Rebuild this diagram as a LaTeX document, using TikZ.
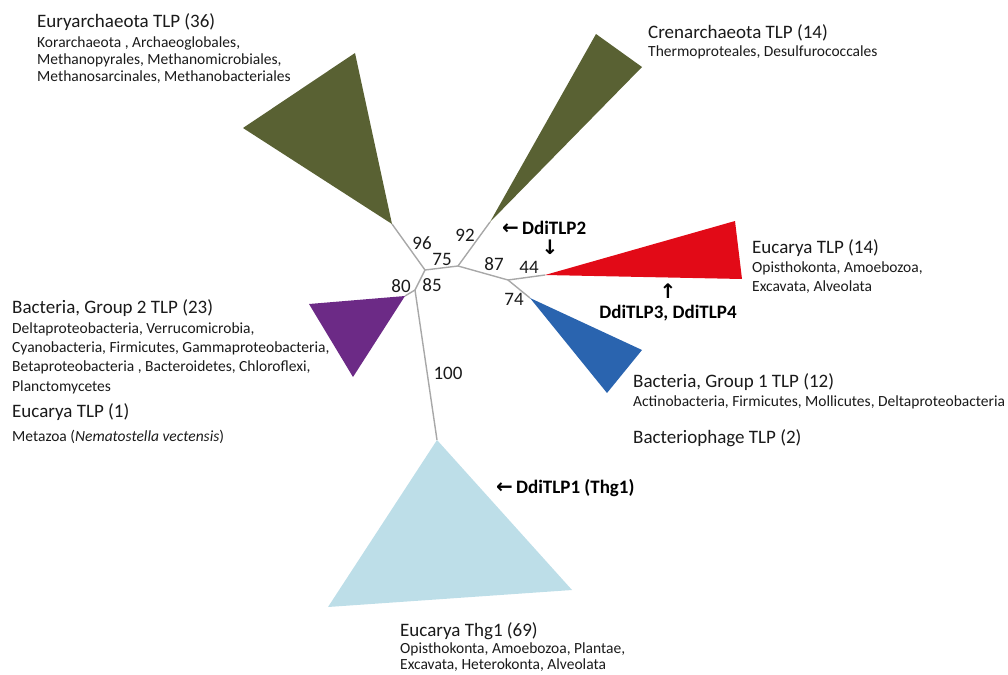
\documentclass[tikz,border=0pt]{standalone}
\usepackage{fontspec}
\setmainfont{Carlito}
\newfontfamily\arrfont{DejaVu Sans}
\definecolor{olive}{HTML}{596133}
\definecolor{tred}{HTML}{E20A17}
\definecolor{tpurple}{HTML}{6C2A86}
\definecolor{tblue}{HTML}{2A64AF}
\definecolor{tlight}{HTML}{BDDEE8}
\definecolor{tgray}{HTML}{A8A8A8}
\definecolor{txt}{HTML}{1A1A1A}
\begin{document}
\begin{tikzpicture}[x=1pt,y=-1pt,
  branch/.style={draw=tgray,line width=1.4pt},
  ttl/.style={anchor=west,inner sep=0pt,text=txt,font=\fontsize{19}{22}\selectfont},
  sub/.style={anchor=west,inner sep=0pt,text=txt,font=\fontsize{15.5}{18}\selectfont},
  num/.style={inner sep=0pt,text=txt,font=\fontsize{19}{22}\selectfont},
  ddi/.style={inner sep=0pt,text=black,font=\fontsize{19}{22}\selectfont\bfseries},
  arr/.style={inner sep=0pt,text=black,font=\fontsize{20}{22}\arrfont\bfseries}]
\useasboundingbox (0,0) rectangle (1008,674);
% junctions and tips
\coordinate (A) at (425,270);
\coordinate (B) at (458,266);
\coordinate (C) at (508,280);
\coordinate (D) at (415,290);
\coordinate (euryTip) at (392,224);
\coordinate (crenTip) at (490,222);
\coordinate (redTip) at (545,275);
\coordinate (blueTip) at (530,298);
\coordinate (purpTip) at (405,296);
\coordinate (thgTip) at (437,440);
% clades
\fill[olive] (euryTip) -- (243,128) -- (355,53) -- cycle;
\fill[olive] (crenTip) -- (596,34) -- (642,67) -- cycle;
\fill[tred] (redTip) -- (735,221) -- (742,279) -- cycle;
\fill[tblue] (blueTip) -- (642,350) -- (607,393) -- cycle;
\fill[tpurple] (purpTip) -- (309,304) -- (353,377) -- cycle;
\fill[tlight] (thgTip) -- (572,590) -- (328,607) -- cycle;
% branches
\draw[branch] (A) -- (euryTip);
\draw[branch] (A) -- (B);
\draw[branch] (A) -- (D);
\draw[branch] (D) -- (purpTip);
\draw[branch] (D) -- (thgTip);
\draw[branch] (B) -- (crenTip);
\draw[branch] (B) -- (C);
\draw[branch] (C) -- (redTip);
\draw[branch] (C) -- (blueTip);
% bootstrap values
\node[num] (n96) at (422,243) {96};
\node[num] (n75) at (442,259) {75};
\node[num] (n92) at (465,235) {92};
\node[num] (n87) at (494,264) {87};
\node[num] (n44) at (529,267) {44};
\node[num] (n80) at (401,286) {80};
\node[num] (n85) at (432,285) {85};
\node[num] (n74) at (514,299) {74};
\node[num] (n100) at (448,373) {100};
% DdiTLP markers
\node[ddi,anchor=west] (d2) at (502,228) {{\arrfont\fontsize{20}{22}\selectfont ←}\,DdiTLP2};
\node[arr] (d2a) at (550,247) {↓};
\node[arr] (d34a) at (668,291) {↑};
\node[ddi] (d34) at (668,313) {DdiTLP3, DdiTLP4};
\node[ddi,anchor=west] (d1) at (496,488) {{\arrfont\fontsize{20}{22}\selectfont ←}\,DdiTLP1 (Thg1)};
% clade labels
\node[ttl] (eu0) at (37,22) {Euryarchaeota TLP (36)};
\node[sub] (eu1) at (37,43) {Korarchaeota , Archaeoglobales,};
\node[sub] (eu2) at (37,60) {Methanopyrales, Methanomicrobiales,};
\node[sub] (eu3) at (37,77) {Methanosarcinales, Methanobacteriales};
\node[ttl] (cr0) at (648,33) {Crenarchaeota TLP (14)};
\node[sub] (cr1) at (648,52) {Thermoproteales, Desulfurococcales};
\node[ttl] (ec0) at (752,248) {Eucarya TLP (14)};
\node[sub] (ec1) at (752,268) {Opisthokonta, Amoebozoa,};
\node[sub] (ec2) at (752,287) {Excavata, Alveolata};
\node[ttl] (b20) at (12,308) {Bacteria, Group 2 TLP (23)};
\node[sub] (b21) at (12,329) {Deltaproteobacteria, Verrucomicrobia,};
\node[sub] (b22) at (12,348) {Cyanobacteria, Firmicutes, Gammaproteobacteria,};
\node[sub] (b23) at (12,367) {Betaproteobacteria , Bacteroidetes, Chloroflexi,};
\node[sub] (b24) at (12,387) {Planctomycetes};
\node[ttl] (e10) at (12,412) {Eucarya TLP (1)};
\node[sub] (e11) at (12,437) {Metazoa (\textit{Nematostella vectensis})};
\node[ttl] (b10) at (633,382) {Bacteria, Group 1 TLP (12)};
\node[sub] (b11) at (633,402) {Actinobacteria, Firmicutes, Mollicutes, Deltaproteobacteria};
\node[ttl] (bp0) at (633,438) {Bacteriophage TLP (2)};
\node[ttl] (th0) at (400,631) {Eucarya Thg1 (69)};
\node[sub] (th1) at (400,649) {Opisthokonta, Amoebozoa, Plantae,};
\node[sub] (th2) at (400,665) {Excavata, Heterokonta, Alveolata};
\end{tikzpicture}
\end{document}
